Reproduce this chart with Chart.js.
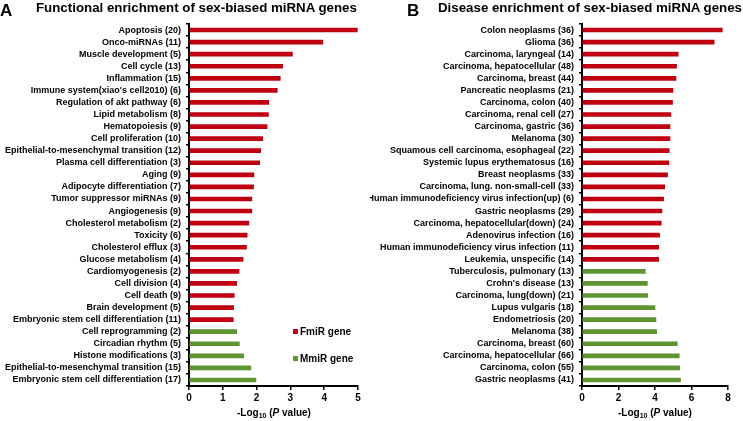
<!DOCTYPE html>
<html>
<head>
<meta charset="utf-8">
<title>Enrichment of sex-biased miRNA genes</title>
<script src="https://cdn.jsdelivr.net/npm/chart.js"></script>
<style>
  body { margin: 0; background: #fff; font-family: "Liberation Sans", Arial, sans-serif; }
  #page { position: relative; width: 743px; height: 421px; overflow: hidden; }
  canvas { position: absolute; top: 0; }
  .txt { position: absolute; font-weight: bold; color: #000; white-space: nowrap; line-height: 1; }
  .letter { font-size: 17px; }
  .title { font-size: 13.3px; }
  .axtitle { font-size: 10px; transform: translateX(-50%); }
  .axtitle sub { font-size: 7px; vertical-align: -2px; line-height: 0; }
  .leg { font-size: 10px; }
  .sw { display: inline-block; width: 5px; height: 5px; margin-right: 2px; vertical-align: 1px; }
</style>
</head>
<body>
<div id="page">
  <canvas id="chartA" width="370" height="421" style="left:0"></canvas>
  <canvas id="chartB" width="373" height="421" style="left:370px"></canvas>

  <div class="txt letter" style="left:0;top:2px">A</div>
  <div class="txt title" style="left:36px;top:1px">Functional enrichment of sex-biased miRNA genes</div>
  <div class="txt letter" style="left:407px;top:2px">B</div>
  <div class="txt title" style="left:438px;top:1px">Disease enrichment of sex-biased miRNA genes</div>

  <div class="txt axtitle" style="left:274px;top:408px">-Log<sub>10</sub> (<i>P</i> value)</div>
  <div class="txt axtitle" style="left:655px;top:408px">-Log<sub>10</sub> (<i>P</i> value)</div>

  <div class="txt leg" style="left:293px;top:327px"><span class="sw" style="background:#c00010"></span>FmiR gene</div>
  <div class="txt leg" style="left:293px;top:354px"><span class="sw" style="background:#5f9433"></span>MmiR gene</div>
</div>

<script>
// panel A: functional enrichment
var funcLabels = [
  "Apoptosis (20)", "Onco-miRNAs (11)", "Muscle development (5)", "Cell cycle (13)",
  "Inflammation (15)", "Immune system(xiao's cell2010) (6)", "Regulation of akt pathway (6)",
  "Lipid metabolism (8)", "Hematopoiesis (9)", "Cell proliferation (10)",
  "Epithelial-to-mesenchymal transition (12)", "Plasma cell differentiation (3)", "Aging (9)",
  "Adipocyte differentiation (7)", "Tumor suppressor miRNAs (9)", "Angiogenesis (9)",
  "Cholesterol metabolism (2)", "Toxicity (6)", "Cholesterol efflux (3)", "Glucose metabolism (4)",
  "Cardiomyogenesis (2)", "Cell division (4)", "Cell death (9)", "Brain development (5)",
  "Embryonic stem cell differentiation (11)",
  "Cell reprogramming (2)", "Circadian rhythm (5)", "Histone modifications (3)",
  "Epithelial-to-mesenchymal transition (15)", "Embryonic stem cell differentiation (17)"
];
var funcFemale = [4.98, 3.96, 3.06, 2.77, 2.70, 2.61, 2.36, 2.35, 2.31, 2.18, 2.12, 2.09, 1.92,
  1.91, 1.86, 1.86, 1.77, 1.72, 1.70, 1.60, 1.48, 1.41, 1.34, 1.32, 1.31,
  null, null, null, null, null];
var funcMale = [null, null, null, null, null, null, null, null, null, null, null, null, null,
  null, null, null, null, null, null, null, null, null, null, null, null,
  1.41, 1.49, 1.62, 1.83, 1.98];
var funcTicks = [0, 1, 2, 3, 4, 5];

// panel B: disease enrichment
var disLabels = [
  "Colon neoplasms (36)", "Glioma (36)", "Carcinoma, laryngeal (14)", "Carcinoma, hepatocellular (48)",
  "Carcinoma, breast (44)", "Pancreatic neoplasms (21)", "Carcinoma, colon (40)",
  "Carcinoma, renal cell (27)", "Carcinoma, gastric (36)", "Melanoma (30)",
  "Squamous cell carcinoma, esophageal (22)", "Systemic lupus erythematosus (16)",
  "Breast neoplasms (33)", "Carcinoma, lung. non-small-cell (33)",
  "Human immunodeficiency virus infection(up) (6)", "Gastric neoplasms (29)",
  "Carcinoma, hepatocellular(down) (24)", "Adenovirus infection (16)",
  "Human immunodeficiency virus infection (11)", "Leukemia, unspecific (14)",
  "Tuberculosis, pulmonary (13)", "Crohn's disease (13)", "Carcinoma, lung(down) (21)",
  "Lupus vulgaris (18)", "Endometriosis (20)", "Melanoma (38)", "Carcinoma, breast (60)",
  "Carcinoma, hepatocellular (66)", "Carcinoma, colon (55)", "Gastric neoplasms (41)"
];
var disFemale = [7.69, 7.24, 5.27, 5.18, 5.15, 4.98, 4.96, 4.87, 4.82, 4.82, 4.78, 4.76, 4.69,
  4.53, 4.47, 4.38, 4.34, 4.25, 4.20, 4.20,
  null, null, null, null, null, null, null, null, null, null];
var disMale = [null, null, null, null, null, null, null, null, null, null, null, null, null,
  null, null, null, null, null, null, null,
  3.47, 3.58, 3.60, 4.00, 4.05, 4.09, 5.22, 5.33, 5.35, 5.40];
var disTicks = [0, 2, 4, 6, 8];

var red = "#c00010";
var green = "#5f9433";
var font = "'Liberation Sans', Arial, sans-serif";

function makeChart(id, labels, female, male, ticks, yWidth, rightPad) {
  var ctx = document.getElementById(id).getContext('2d');
  return new Chart(ctx, {
    type: 'bar',
    data: {
      labels: labels,
      datasets: [
        { label: 'FmiR gene', data: female, backgroundColor: red, barThickness: 4 },
        { label: 'MmiR gene', data: male, backgroundColor: green, barThickness: 4 }
      ]
    },
    options: {
      indexAxis: 'y',
      responsive: false,
      animation: false,
      layout: { padding: { top: 24, right: rightPad, left: 0, bottom: 0 } },
      plugins: { legend: { display: false }, tooltip: { enabled: false } },
      scales: {
        x: {
          stacked: true,
          min: ticks[0],
          max: ticks[ticks.length - 1],
          afterBuildTicks: function (scale) {
            scale.ticks = ticks.map(function (v) { return { value: v }; });
          },
          afterFit: function (scale) { scale.height = 35; },
          border: { display: true, color: '#000', width: 2 },
          grid: { drawOnChartArea: false, drawTicks: true, tickLength: 4, color: '#000', lineWidth: 1.5 },
          ticks: { color: '#000', padding: 2, font: { family: font, size: 10, weight: 'bold' } }
        },
        y: {
          stacked: true,
          afterFit: function (scale) { scale.width = yWidth; },
          border: { display: true, color: '#000', width: 2 },
          grid: { drawOnChartArea: false, drawTicks: true, tickLength: 3, color: '#000', lineWidth: 1.5 },
          ticks: { color: '#000', padding: 5, autoSkip: false, font: { family: font, size: 9, weight: 'bold' } }
        }
      }
    }
  });
}

makeChart('chartA', funcLabels, funcFemale, funcMale, funcTicks, 189, 12);
makeChart('chartB', disLabels, disFemale, disMale, disTicks, 212, 15);
</script>
</body>
</html>
